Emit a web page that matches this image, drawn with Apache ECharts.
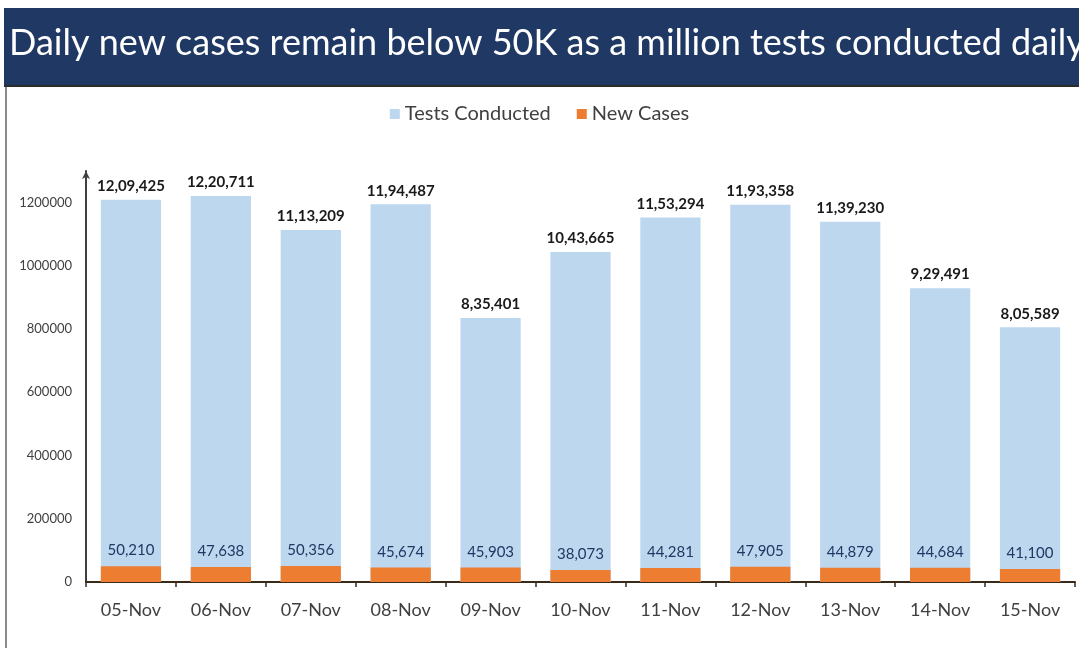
<!DOCTYPE html>
<html>
<head>
<meta charset="utf-8">
<script src="https://cdn.jsdelivr.net/npm/echarts@6/dist/echarts.min.js"></script>
<style>
  html, body { margin: 0; padding: 0; background: #fff; }
  #chart { width: 1079px; height: 648px; }
</style>
</head>
<body>
<div id="chart"></div>
<script>
const days = ["05-Nov", "06-Nov", "07-Nov", "08-Nov", "09-Nov", "10-Nov", "11-Nov", "12-Nov", "13-Nov", "14-Nov", "15-Nov"];
const testsConducted = [1209425, 1220711, 1113209, 1194487, 835401, 1043665, 1153294, 1193358, 1139230, 929491, 805589];
const newCases = [50210, 47638, 50356, 45674, 45903, 38073, 44281, 47905, 44879, 44684, 41100];
const yTicks = [0, 200000, 400000, 600000, 800000, 1000000, 1200000];

// Indian style grouping: 12,09,425
function indianFormat(n) {
  const s = String(n);
  if (s.length <= 3) return s;
  const last3 = s.slice(-3);
  let rest = s.slice(0, -3);
  const parts = [];
  while (rest.length > 2) {
    parts.unshift(rest.slice(-2));
    rest = rest.slice(0, -2);
  }
  if (rest) parts.unshift(rest);
  return parts.join(",") + "," + last3;
}

const chart = echarts.init(document.getElementById("chart"));

chart.setOption({
  animation: false,
  backgroundColor: "#ffffff",
  graphic: [
    { type: "rect", shape: { x: 4, y: 8, width: 1075, height: 77 }, style: { fill: "#1f3864" }, z: 0 },
    { type: "rect", shape: { x: 4, y: 85, width: 1075, height: 2 }, style: { fill: "#2b2b2b" }, z: 0 },
    { type: "rect", shape: { x: 5, y: 87, width: 2, height: 561 }, style: { fill: "#8a8a8a" }, z: 0 },
    {
      type: "text", left: 9, top: 25, z: 10,
      style: { text: "Daily new cases remain below 50K as a million tests conducted daily", fill: "#ffffff", font: "36px Lato" }
    }
  ],
  legend: {
    top: 99,
    left: "center",
    itemWidth: 10,
    itemHeight: 10,
    itemGap: 26,
    icon: "rect",
    textStyle: { fontFamily: "Lato", fontSize: 20, color: "#404040" },
    data: ["Tests Conducted", "New Cases"]
  },
  grid: { left: 86, right: 4, top: 171, bottom: 66 },
  xAxis: {
    type: "category",
    data: days,
    axisLine: { lineStyle: { color: "#3a2a1a", width: 2 } },
    axisTick: { show: true, length: 5, lineStyle: { color: "#3a2a1a", width: 1.5 } },
    axisLabel: { fontFamily: "Lato", fontSize: 18, color: "#404040", margin: 19 }
  },
  yAxis: {
    type: "value",
    min: 0,
    max: 1300000,
    interval: 200000,
    axisLine: { show: true, symbol: ["none", "arrow"], symbolSize: [6, 8], lineStyle: { color: "#404040", width: 2 } },
    axisTick: { show: false },
    splitLine: { show: false },
    axisLabel: {
      showMaxLabel: false,
      fontFamily: "Lato", fontSize: 13, color: "#404040", margin: 14,
      formatter: v => (yTicks.indexOf(v) >= 0 ? String(v) : "")
    }
  },
  series: [
    {
      name: "Tests Conducted",
      type: "bar",
      data: testsConducted,
      barWidth: "67%",
      barGap: "-100%",
      itemStyle: { color: "#bdd7ee" },
      label: {
        show: true, position: "top", distance: 6,
        fontFamily: "Lato", fontWeight: "bold", fontSize: 15, color: "#1a1a1a",
        formatter: p => indianFormat(p.value)
      }
    },
    {
      name: "New Cases",
      type: "bar",
      data: newCases,
      barWidth: "67%",
      itemStyle: { color: "#ed7d31" },
      label: {
        show: true, position: "top", distance: 8,
        fontFamily: "Lato", fontSize: 15, color: "#1f3864",
        formatter: p => indianFormat(p.value)
      }
    }
  ]
});
</script>
</body>
</html>
